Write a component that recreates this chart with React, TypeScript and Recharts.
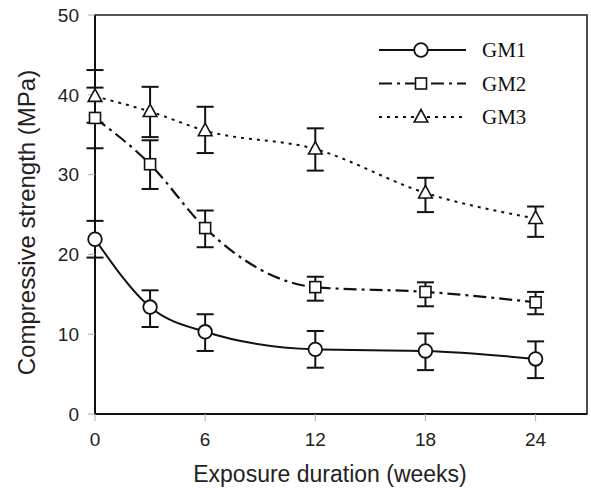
import React from "react"
import { ComposedChart, Line, XAxis, YAxis, ErrorBar, ReferenceArea } from "recharts"

const weeks = [0, 3, 6, 12, 18, 24]

const gm1 = [21.9, 13.4, 10.3, 8.1, 7.9, 6.9]
const gm1Hi = [24.2, 15.5, 12.5, 10.4, 10.1, 9.1]
const gm1Lo = [19.6, 10.9, 7.9, 5.8, 5.5, 4.5]

const gm2 = [37.1, 31.3, 23.3, 15.9, 15.3, 14.0]
const gm2Hi = [40.9, 34.3, 25.5, 17.2, 16.5, 15.3]
const gm2Lo = [33.3, 28.2, 20.9, 14.2, 13.5, 12.5]

const gm3 = [39.8, 37.9, 35.5, 33.2, 27.7, 24.5]
const gm3Hi = [43.1, 41.0, 38.5, 35.8, 29.6, 26.0]
const gm3Lo = [36.5, 34.7, 32.7, 30.5, 25.3, 22.2]

const xTicks = [0, 6, 12, 18, 24]
const yTicks = [0, 10, 20, 30, 40, 50]

const data = weeks.map((w, i) => ({
  week: w,
  gm1: gm1[i],
  gm1Err: [gm1[i] - gm1Lo[i], gm1Hi[i] - gm1[i]],
  gm2: gm2[i],
  gm2Err: [gm2[i] - gm2Lo[i], gm2Hi[i] - gm2[i]],
  gm3: gm3[i],
  gm3Err: [gm3[i] - gm3Lo[i], gm3Hi[i] - gm3[i]],
}))

const INK = "#111"
const SANS = "'Liberation Sans', Arial, sans-serif"
const SERIF = "'Liberation Serif', 'Times New Roman', serif"

const dashGM2 = "13 5 3 5"
const dashGM3 = "3 5"

function Marker({ kind, cx, cy }: { kind: string; cx: number; cy: number }) {
  if (kind === "circle") {
    return <circle cx={cx} cy={cy} r={6.8} fill="#fff" stroke={INK} strokeWidth={1.8} />
  }
  if (kind === "square") {
    return <rect x={cx - 5.5} y={cy - 5.5} width={11} height={11} fill="#fff" stroke={INK} strokeWidth={1.6} />
  }
  return (
    <polygon
      points={`${cx},${cy - 7.5} ${cx - 6.8},${cy + 5} ${cx + 6.8},${cy + 5}`}
      fill="#fff"
      stroke={INK}
      strokeWidth={1.6}
    />
  )
}

const dotFor = (kind: string) => (props: any) => (
  <Marker key={`${kind}-${props.index}`} kind={kind} cx={props.cx} cy={props.cy} />
)

const legendRows = [
  { name: "GM1", kind: "circle", dash: undefined as string | undefined },
  { name: "GM2", kind: "square", dash: dashGM2 },
  { name: "GM3", kind: "triangle", dash: dashGM3 },
]

// legend sits inside the plot, top right, so it is drawn as an overlay
function ChartLegend() {
  return (
    <svg width={200} height={110} style={{ position: "absolute", left: 370, top: 30 }}>
      {legendRows.map((r, i) => {
        const y = 20 + i * 33.5
        return (
          <g key={r.name}>
            <line x1={9} x2={96} y1={y} y2={y} stroke={INK} strokeWidth={2} strokeDasharray={r.dash} />
            <Marker kind={r.kind} cx={51} cy={y} />
            <text x={112} y={y + 7} fontFamily={SERIF} fontSize={21} fill={INK}>
              {r.name}
            </text>
          </g>
        )
      })}
    </svg>
  )
}

function YLabel({ viewBox }: any) {
  const x = viewBox.x + 35
  const y = viewBox.y + viewBox.height / 2 + 8
  return (
    <text
      x={x}
      y={y}
      transform={`rotate(-90, ${x}, ${y})`}
      textAnchor="middle"
      fontSize={24}
      fill="#222"
      fontFamily={SANS}
    >
      Compressive strength (MPa)
    </text>
  )
}

export default function App() {
  return (
    <div style={{ position: "absolute", left: 0, top: 0, width: 591, height: 488, background: "#fff" }}>
      <ComposedChart width={591} height={488} data={data} margin={{ top: 15, right: 4, left: 0, bottom: 0 }}>
        <XAxis
          dataKey="week"
          type="number"
          domain={[0, 26.8]}
          ticks={xTicks}
          height={74}
          axisLine={{ stroke: INK, strokeWidth: 2 }}
          tickLine={{ stroke: "#aaa" }}
          tickSize={7}
          tickMargin={12}
          tick={{ fontSize: 19, fill: "#222", fontFamily: SANS }}
          label={{
            value: "Exposure duration (weeks)",
            position: "insideBottom",
            offset: 6,
            dx: -11,
            style: { fontSize: 23, fill: "#222", fontFamily: SANS },
          }}
        />
        <YAxis
          type="number"
          domain={[0, 50]}
          ticks={yTicks}
          width={95}
          axisLine={{ stroke: INK, strokeWidth: 2 }}
          tickLine={{ stroke: "#aaa" }}
          tickSize={7}
          tickMargin={9}
          tick={{ fontSize: 19, fill: "#222", fontFamily: SANS }}
          label={{ content: (p: any) => <YLabel {...p} /> }}
        />
        <ReferenceArea x1={0} x2={26.8} y1={0} y2={50} fill="none" stroke="#222" strokeWidth={1.6} />
        <Line
          dataKey="gm3"
          type="monotone"
          stroke={INK}
          strokeWidth={2}
          strokeDasharray={dashGM3}
          dot={dotFor("triangle")}
          activeDot={false}
          isAnimationActive={false}
        >
          <ErrorBar dataKey="gm3Err" width={8.5} stroke={INK} strokeWidth={2} direction="y" />
        </Line>
        <Line
          dataKey="gm2"
          type="monotone"
          stroke={INK}
          strokeWidth={2.2}
          strokeDasharray={dashGM2}
          dot={dotFor("square")}
          activeDot={false}
          isAnimationActive={false}
        >
          <ErrorBar dataKey="gm2Err" width={8.5} stroke={INK} strokeWidth={2} direction="y" />
        </Line>
        <Line
          dataKey="gm1"
          type="monotone"
          stroke={INK}
          strokeWidth={2}
          dot={dotFor("circle")}
          activeDot={false}
          isAnimationActive={false}
        >
          <ErrorBar dataKey="gm1Err" width={8.5} stroke={INK} strokeWidth={2} direction="y" />
        </Line>
      </ComposedChart>
      <ChartLegend />
    </div>
  )
}
